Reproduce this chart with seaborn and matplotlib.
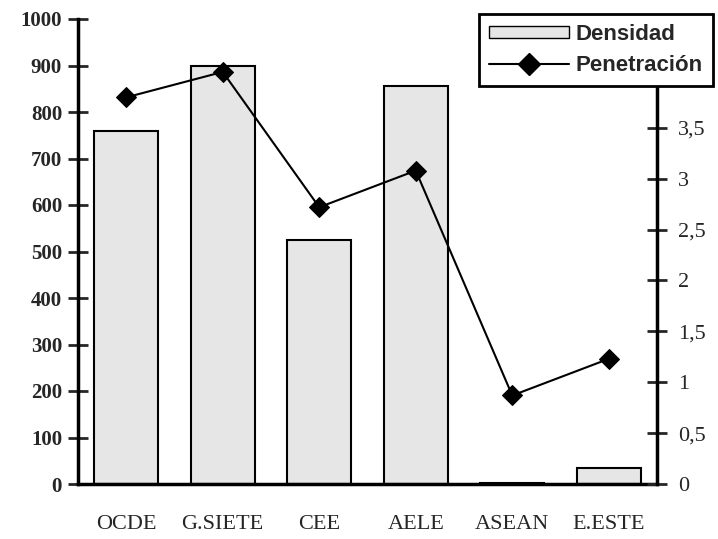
import numpy as np
import matplotlib
matplotlib.use("Agg")
import matplotlib.pyplot as plt
import seaborn as sns
from matplotlib.patches import Patch
from matplotlib.lines import Line2D

# Datos por bloque económico
categorias = ["OCDE", "G.SIETE", "CEE", "AELE", "ASEAN", "E.ESTE"]
densidad = [760, 900, 525, 855, 3, 35]
penetracion = [3.8, 4.05, 2.72, 3.08, 0.87, 1.23]

ticks_dens = [0, 100, 200, 300, 400, 500, 600, 700, 800, 900, 1000]
ticks_pen = [0, 0.5, 1, 1.5, 2, 2.5, 3, 3.5]
etiquetas_pen = ["0", "0,5", "1", "1,5", "2", "2,5", "3", "3,5"]

sns.set_style("white")
plt.rcParams["font.family"] = ["Liberation Serif", "DejaVu Serif"]

fig = plt.figure(figsize=(7.18, 5.39), dpi=100)
W, H = 718, 539
ax = fig.add_axes([78 / W, 1 - 484 / H, (657 - 78) / W, (484 - 19) / H])

relleno = "#e6e6e6"
sns.barplot(x=categorias, y=densidad, ax=ax, color=relleno, saturation=1,
            width=0.66, edgecolor="black", linewidth=1.5)
ax.set_xlim(-0.5, 5.5)
ax.set_ylim(0, 1000)
ax.set_yticks(ticks_dens)
ax.set_yticklabels([str(t) for t in ticks_dens], fontsize=15, fontweight="bold")
ax.set_xlabel("")
ax.set_ylabel("")

# separadores de categoría en el eje x, etiquetas centradas
ax.set_xticks(np.arange(len(categorias)) + 0.5)
ax.set_xticklabels([])
ax.set_xticks(np.arange(len(categorias)), minor=True)
ax.set_xticklabels(categorias, minor=True, fontsize=16)
ax.tick_params(axis="x", which="minor", length=0, pad=22)
ax.tick_params(axis="x", which="major", direction="inout", length=14, width=2)
ax.tick_params(axis="y", direction="inout", length=15, width=2, pad=4)

for s in ["left", "bottom"]:
    ax.spines[s].set_linewidth(2.5)
    ax.spines[s].set_color("black")
ax.spines["top"].set_visible(False)
ax.spines["right"].set_visible(False)

ax2 = ax.twinx()
sns.lineplot(x=np.arange(len(categorias)), y=penetracion, ax=ax2, color="black",
             linewidth=1.5, marker="D", markersize=10, markeredgecolor="black")
ax2.set_ylim(0, 4.57)
ax2.set_yticks(ticks_pen)
ax2.set_yticklabels(etiquetas_pen, fontsize=16)
ax2.tick_params(axis="y", direction="inout", length=14, width=2, pad=8)
ax2.spines["right"].set_linewidth(2.5)
ax2.spines["right"].set_color("black")
for s in ["top", "left", "bottom"]:
    ax2.spines[s].set_visible(False)
ax2.set_xlim(-0.5, 5.5)

handles = [
    Patch(facecolor=relleno, edgecolor="black", linewidth=1.0),
    Line2D([0], [0], color="black", linewidth=1.5, marker="D", markersize=11),
]
leg = fig.legend(handles, ["Densidad", "Penetración"], loc="upper left",
                 bbox_to_anchor=(479 / W, 1 - 14 / H), bbox_transform=fig.transFigure,
                 prop={"family": "Liberation Sans", "weight": "bold", "size": 16},
                 fancybox=False, framealpha=1, edgecolor="black",
                 handlelength=3.6, handleheight=0.5, borderpad=0.45,
                 labelspacing=0.45, handletextpad=0.3, borderaxespad=0)
leg.get_frame().set_linewidth(2)

fig.savefig("out.png", dpi=100)
